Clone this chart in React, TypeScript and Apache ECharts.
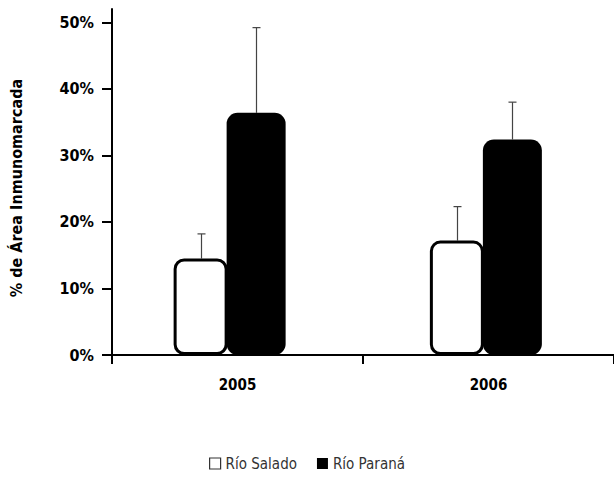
import React, { useEffect, useRef } from "react";
import * as echarts from "echarts";

const categories = ["2005", "2006"];
const seriesNames = ["Río Salado", "Río Paraná"];
const saladoValues = [14.5, 17.2];
const saladoErrors = [18.2, 22.3];
const paranaValues = [36.4, 32.4];
const paranaErrors = [49.2, 38.0];
const yTicks = [0, 10, 20, 30, 40, 50];

const FONT = "'Liberation Sans Narrow', 'DejaVu Sans Condensed', sans-serif";

export default function App() {
  const ref = useRef<HTMLDivElement>(null);
  useEffect(() => {
    document.body.style.margin = "0";
    const chart = echarts.init(ref.current!, null, { renderer: "svg" });
    const whiteW = 54;
    const blackW = 59;
    const gap = -1;
    const makeErr = (seriesIndex: number, vals: number[], errs: number[]) => ({
      type: "custom",
      name: seriesNames[seriesIndex] + " err",
      xAxisIndex: 1,
      yAxisIndex: 1,
      z: 1,
      data: categories.map((c, i) => [i, vals[i], errs[i]]),
      renderItem: (params: any, api: any) => {
        const idx = api.value(0);
        const base = api.coord([idx, api.value(1)]);
        const top = api.coord([idx, api.value(2)]);
        const total = whiteW + blackW + gap;
        const offset = seriesIndex === 0 ? -total / 2 + whiteW / 2 : total / 2 - blackW / 2;
        const x = Math.round(base[0] + offset) + 0.5;
        const cap = 4;
        return {
          type: "group",
          children: [
            { type: "line", shape: { x1: x, y1: base[1], x2: x, y2: top[1] }, style: { stroke: "#444", lineWidth: 1.2 } },
            { type: "line", shape: { x1: x - cap, y1: top[1], x2: x + cap, y2: top[1] }, style: { stroke: "#444", lineWidth: 1.2 } },
          ],
        };
      },
    });
    chart.setOption({
      animation: false,
      textStyle: { fontFamily: FONT },
      grid: [
        { left: 109, right: -5, top: 9, bottom: 124, containLabel: false },
        { left: 101.5, right: -4.5, top: 9, bottom: 124, containLabel: false },
      ],
      legend: {
        bottom: 3,
        left: "center",
        itemWidth: 11,
        itemHeight: 11,
        itemGap: 20,
        icon: "rect",
        textStyle: { fontFamily: FONT, fontSize: 15, color: "#333" },
        data: [
          { name: seriesNames[0], itemStyle: { color: "#fff", borderColor: "#333", borderWidth: 1.2 } },
          { name: seriesNames[1], itemStyle: { color: "#000" } },
        ],
      },
      xAxis: [
        {
          type: "category",
          gridIndex: 0,
          data: categories,
          axisLine: { lineStyle: { color: "#000", width: 2 } },
          axisTick: { show: true, interval: 0, length: 9, lineStyle: { color: "#000", width: 2 } },
          axisLabel: { color: "#000", fontWeight: "bold", fontSize: 15, margin: 22, fontFamily: FONT },
          z: 3,
        },
        {
          type: "category",
          gridIndex: 1,
          data: categories,
          show: false,
        },
      ],
      yAxis: [
        {
          type: "value",
          gridIndex: 0,
          min: 0,
          max: 52,
          interval: 10,
          name: "% de Área Inmunomarcada",
          nameLocation: "middle",
          nameGap: 88,
          nameTextStyle: { color: "#000", fontWeight: "bold", fontSize: 16, fontFamily: FONT, padding: [0, 12, 0, 0] },
          splitLine: { show: false },
          axisLine: { show: true, lineStyle: { color: "#000", width: 2 } },
          axisTick: { show: true, length: 10, lineStyle: { color: "#000", width: 2 }, customValues: yTicks },
          axisLabel: {
            color: "#000",
            fontWeight: "bold",
            fontSize: 16,
            margin: 18,
            fontFamily: FONT,
            customValues: yTicks,
            formatter: (v: number) => v + "%",
          },
          z: 3,
        },
        {
          type: "value",
          gridIndex: 1,
          min: 0,
          max: 52,
          show: false,
          splitLine: { show: false },
        },
      ],
      series: [
        {
          type: "bar",
          name: seriesNames[0],
          xAxisIndex: 1,
          yAxisIndex: 1,
          data: saladoValues,
          barWidth: whiteW,
          barGap: (gap / whiteW) * 100 + "%",
          z: 2,
          itemStyle: { color: "#fff", borderColor: "#000", borderWidth: 3, borderRadius: 9 },
        },
        {
          type: "bar",
          name: seriesNames[1],
          xAxisIndex: 1,
          yAxisIndex: 1,
          data: paranaValues,
          barWidth: blackW,
          barGap: (gap / whiteW) * 100 + "%",
          z: 2,
          itemStyle: { color: "#000", borderColor: "#000", borderWidth: 0, borderRadius: 11 },
        },
        makeErr(0, saladoValues, saladoErrors),
        makeErr(1, paranaValues, paranaErrors),
      ],
    });
    return () => chart.dispose();
  }, []);
  return <div ref={ref} style={{ width: 614, height: 479, position: "absolute", left: 0, top: 0 }} />;
}
